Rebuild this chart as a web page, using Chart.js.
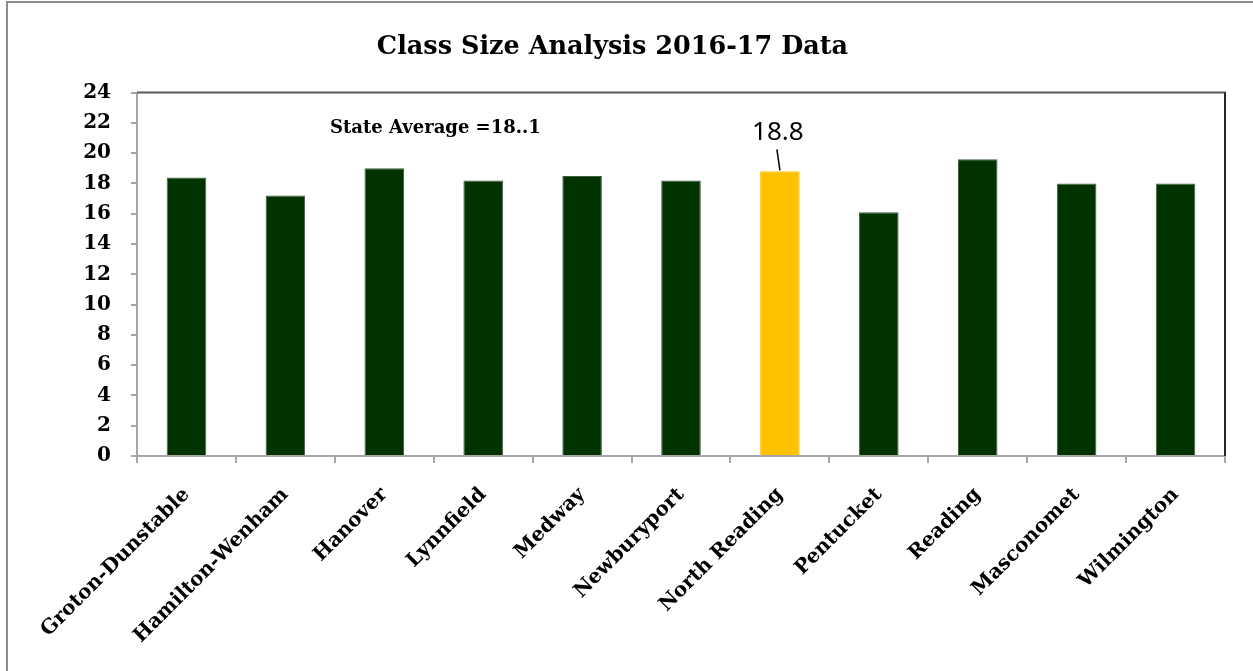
<!DOCTYPE html>
<html>
<head>
<meta charset="utf-8">
<title>Class Size Analysis 2016-17 Data</title>
<script src="https://cdn.jsdelivr.net/npm/chart.js@4"></script>
<style>
  html, body { margin: 0; padding: 0; background: #fff; overflow: hidden; }
  #frame {
    position: absolute; left: 6px; top: 1px; width: 1400px; height: 900px;
    border-left: 2px solid #8c8c8c; border-top: 2px solid #8c8c8c;
  }
  #wrap { position: absolute; left: 0; top: 0; width: 1253px; height: 671px; }
</style>
</head>
<body>
<div id="frame"></div>
<div id="wrap"><canvas id="classChart"></canvas></div>
<script>
const districts = [
  'Groton-Dunstable', 'Hamilton-Wenham', 'Hanover', 'Lynnfield', 'Medway',
  'Newburyport', 'North Reading', 'Pentucket', 'Reading', 'Masconomet', 'Wilmington'
];
const classSizes = [18.4, 17.2, 19.0, 18.2, 18.5, 18.2, 18.8, 16.1, 19.6, 18.0, 18.0];
const highlightDistrict = 'North Reading';
const stateAverageLabel = 'State Average =18..1';
const yTicks = [0, 2, 4, 6, 8, 10, 12, 14, 16, 18, 20, 22, 24];

const serif = "'DejaVu Serif', serif";
const barGreen = '#003300';
const barGold = '#ffc000';
const axisGrey = '#a6a6a6';

// plot-area frame: dark top and right edges, grey axes on the other two
const plotFrame = {
  id: 'plotFrame',
  afterDraw: (chart) => {
    const { ctx, chartArea } = chart;
    ctx.save();
    ctx.lineWidth = 2;
    ctx.strokeStyle = '#595959';
    ctx.beginPath();
    ctx.moveTo(chartArea.left, chartArea.top);
    ctx.lineTo(chartArea.right + 1, chartArea.top);
    ctx.stroke();
    ctx.strokeStyle = '#262626';
    ctx.beginPath();
    ctx.moveTo(chartArea.right, chartArea.top);
    ctx.lineTo(chartArea.right, chartArea.bottom);
    ctx.stroke();
    ctx.restore();
  }
};

// state average note and the call-out for the highlighted bar
const annotations = {
  id: 'annotations',
  afterDatasetsDraw: (chart) => {
    const { ctx, chartArea } = chart;
    ctx.save();
    ctx.fillStyle = '#000';
    ctx.font = `bold 18px ${serif}`;
    ctx.textAlign = 'left';
    ctx.textBaseline = 'alphabetic';
    ctx.fillText(stateAverageLabel, chartArea.left + 193, 133);

    const index = districts.indexOf(highlightDistrict);
    const bar = chart.getDatasetMeta(0).data[index];
    ctx.strokeStyle = '#000';
    ctx.lineWidth = 1.5;
    ctx.beginPath();
    ctx.moveTo(bar.x, bar.y - 1);
    ctx.lineTo(bar.x - 3, bar.y - 22);
    ctx.stroke();
    ctx.font = "26px 'Noto Sans', sans-serif";
    ctx.textAlign = 'center';
    ctx.fillText(classSizes[index].toFixed(1), bar.x - 2, bar.y - 31);
    ctx.restore();
  }
};

const ctx = document.getElementById('classChart');
new Chart(ctx, {
  type: 'bar',
  data: {
    labels: districts,
    datasets: [{
      data: classSizes,
      backgroundColor: districts.map((name) => (name === highlightDistrict ? barGold : barGreen)),
      borderColor: districts.map((name) => (name === highlightDistrict ? barGold : '#3d5c3d')),
      borderWidth: 1,
      barPercentage: 0.4,
      categoryPercentage: 1
    }]
  },
  options: {
    responsive: true,
    maintainAspectRatio: false,
    animation: false,
    layout: { padding: { left: 0, right: 28, top: 0, bottom: 0 } },
    plugins: {
      legend: { display: false },
      tooltip: { enabled: false },
      title: {
        display: true,
        text: 'Class Size Analysis 2016-17 Data',
        color: '#000',
        font: { family: serif, size: 25.5, weight: 'bold', lineHeight: 1.2 },
        padding: { top: 32, bottom: 30 }
      }
    },
    scales: {
      x: {
        grid: { offset: true, drawOnChartArea: false, tickLength: 7, color: axisGrey, lineWidth: 2 },
        border: { color: axisGrey, width: 2 },
        ticks: {
          color: '#000',
          font: { family: serif, size: 20, weight: 'bold' },
          minRotation: 45,
          maxRotation: 45,
          autoSkip: false,
          padding: 20
        },
        afterFit: (scale) => { scale.height = 215; }
      },
      y: {
        min: 0,
        max: 24,
        afterBuildTicks: (scale) => { scale.ticks = yTicks.map((value) => ({ value })); },
        grid: { drawOnChartArea: false, tickLength: 6, color: axisGrey, lineWidth: 2 },
        border: { color: axisGrey, width: 2 },
        ticks: {
          color: '#000',
          font: { family: serif, size: 20, weight: 'bold' },
          padding: 20
        },
        afterFit: (scale) => { scale.width = 137; }
      }
    }
  },
  plugins: [plotFrame, annotations]
});
</script>
</body>
</html>
